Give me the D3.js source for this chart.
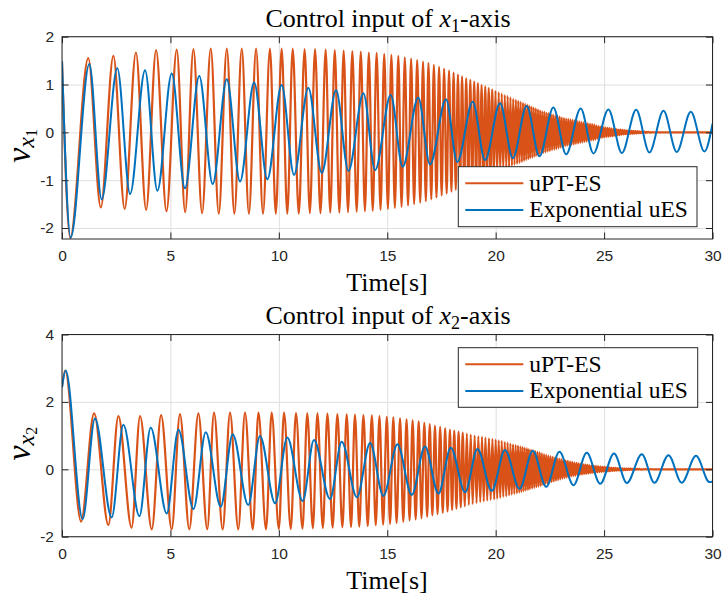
<!DOCTYPE html>
<html><head><meta charset="utf-8">
<script src="https://cdn.jsdelivr.net/npm/d3@7"></script>
<style>body{margin:0;background:#fff}svg{display:block}</style>
</head><body>
<svg id="c" width="725" height="601"></svg>
<script>
// ---------------- DATA ----------------
const timeTicks = [0, 5, 10, 15, 20, 25, 30];
const x1Ticks = [-2, -1, 0, 1, 2];
const x2Ticks = [-2, 0, 2, 4];
const seriesNames = ["uPT-ES", "Exponential uES"];

// x1-axis, uPT-ES: start/end, local maxima, local minima  [time, value]
const x1UptEnds = [[0, 1.48], [30, 0]];
const x1UptPeaks = [[1.21,1.55],[2.37,1.60],[3.41,1.67],[4.34,1.72],[5.29,1.73],[6.06,1.74],[6.86,1.75],[7.60,1.75],[8.29,1.75],[8.95,1.75],[9.59,1.75],[10.13,1.75],[10.64,1.75],[11.19,1.74],[11.67,1.74],[12.16,1.73],[12.58,1.72],[12.99,1.71],[13.39,1.70],[13.78,1.69],[14.15,1.67],[14.51,1.66],[14.86,1.64],[15.19,1.62],[15.51,1.60],[15.81,1.57],[16.10,1.54],[16.38,1.51],[16.65,1.48],[16.90,1.45],[17.15,1.41],[17.39,1.37],[17.62,1.33],[17.85,1.29],[18.06,1.25],[18.26,1.21],[18.45,1.17],[18.64,1.13],[18.83,1.10],[19.01,1.06],[19.18,1.03],[19.35,0.99],[19.52,0.96],[19.68,0.93],[19.84,0.90],[19.99,0.87],[20.14,0.84],[20.28,0.81],[20.42,0.78],[20.55,0.76],[20.68,0.73],[20.81,0.70],[20.93,0.68],[21.04,0.66],[21.15,0.64],[21.26,0.62],[21.36,0.60],[21.46,0.58],[21.55,0.56],[21.65,0.54],[21.75,0.52],[21.85,0.50],[21.95,0.48],[22.05,0.46],[22.15,0.44],[22.25,0.43],[22.35,0.41],[22.45,0.40],[22.55,0.38],[22.65,0.37],[22.75,0.35],[22.85,0.34],[22.95,0.33],[23.05,0.31],[23.15,0.30],[23.25,0.29],[23.35,0.28],[23.45,0.27],[23.55,0.26],[23.65,0.25],[23.75,0.24],[23.85,0.23],[23.95,0.22],[24.05,0.21],[24.15,0.20],[24.25,0.19],[24.35,0.18],[24.45,0.17],[24.55,0.16],[24.65,0.14],[24.75,0.13],[24.85,0.12],[24.95,0.11],[25.05,0.10],[25.15,0.095],[25.25,0.09],[25.35,0.08],[25.45,0.075],[25.55,0.07],[25.65,0.06],[25.75,0.055],[25.85,0.05],[25.95,0.045],[26.05,0.04],[26.15,0.037],[26.25,0.033],[26.35,0.03],[26.45,0.027],[26.55,0.024],[26.65,0.02],[26.75,0.017],[26.85,0.014],[26.95,0.011],[27.05,0.008],[27.15,0.006],[27.25,0.004],[27.35,0.002]];
const x1UptTroughs = [[0.38,-2.21],[1.79,-1.57],[2.89,-1.60],[3.88,-1.62],[4.82,-1.65],[5.68,-1.67],[6.46,-1.69],[7.23,-1.70],[7.95,-1.70],[8.62,-1.70],[9.27,-1.70],[9.86,-1.70],[10.39,-1.70],[10.92,-1.70],[11.43,-1.69],[11.92,-1.69],[12.37,-1.68],[12.79,-1.68],[13.19,-1.67],[13.59,-1.66],[13.97,-1.65],[14.33,-1.64],[14.69,-1.62],[15.03,-1.60],[15.35,-1.58],[15.66,-1.56],[15.96,-1.53],[16.24,-1.50],[16.52,-1.47],[16.78,-1.44],[17.03,-1.40],[17.27,-1.36],[17.51,-1.32],[17.74,-1.28],[17.96,-1.24],[18.16,-1.20],[18.36,-1.16],[18.55,-1.12],[18.74,-1.08],[18.92,-1.05],[19.10,-1.01],[19.27,-0.98],[19.44,-0.95],[19.60,-0.92],[19.76,-0.89],[19.92,-0.86],[20.07,-0.83],[20.21,-0.80],[20.35,-0.77],[20.49,-0.75],[20.62,-0.72],[20.75,-0.70],[20.87,-0.68],[20.99,-0.66],[21.10,-0.64],[21.21,-0.62],[21.31,-0.60],[21.41,-0.58],[21.51,-0.56],[21.60,-0.54],[21.70,-0.53],[21.80,-0.51],[21.90,-0.49],[22.00,-0.47],[22.10,-0.45],[22.20,-0.43],[22.30,-0.42],[22.40,-0.40],[22.50,-0.39],[22.60,-0.37],[22.70,-0.36],[22.80,-0.35],[22.90,-0.33],[23.00,-0.32],[23.10,-0.31],[23.20,-0.29],[23.30,-0.28],[23.40,-0.27],[23.50,-0.26],[23.60,-0.25],[23.70,-0.24],[23.80,-0.23],[23.90,-0.22],[24.00,-0.21],[24.10,-0.20],[24.20,-0.19],[24.30,-0.18],[24.40,-0.17],[24.50,-0.16],[24.60,-0.15],[24.70,-0.13],[24.80,-0.12],[24.90,-0.11],[25.00,-0.10],[25.10,-0.095],[25.20,-0.09],[25.30,-0.085],[25.40,-0.08],[25.50,-0.07],[25.60,-0.065],[25.70,-0.06],[25.80,-0.05],[25.90,-0.045],[26.00,-0.04],[26.10,-0.037],[26.20,-0.033],[26.30,-0.03],[26.40,-0.027],[26.50,-0.024],[26.60,-0.02],[26.70,-0.017],[26.80,-0.014],[26.90,-0.011],[27.00,-0.008],[27.10,-0.006],[27.20,-0.004],[27.30,-0.002],[27.40,-0.001]];

// x1-axis, Exponential uES: extrema [time, value]
const x1Exp = [[0,1.48],[0.40,-2.20],[1.26,1.43],[1.83,-1.40],[2.55,1.34],[3.14,-1.29],[3.83,1.30],[4.40,-1.22],[5.06,1.23],[5.67,-1.17],[6.33,1.18],[6.95,-1.08],[7.60,1.11],[8.21,-1.03],[8.86,1.04],[9.47,-0.98],[10.13,0.99],[10.70,-0.89],[11.36,0.93],[11.98,-0.85],[12.64,0.88],[13.21,-0.81],[13.90,0.82],[14.44,-0.79],[15.16,0.78],[15.71,-0.72],[16.43,0.73],[16.97,-0.67],[17.71,0.69],[18.23,-0.62],[18.94,0.64],[19.51,-0.58],[20.20,0.61],[20.79,-0.54],[21.43,0.55],[22.02,-0.50],[22.66,0.52],[23.25,-0.46],[23.92,0.50],[24.51,-0.44],[25.20,0.48],[25.82,-0.43],[26.48,0.47],[27.09,-0.42],[27.74,0.45],[28.35,-0.41],[29.00,0.43],[29.63,-0.40],[30,0.18]];

// x2-axis, uPT-ES
const x2UptEnds = [[0, 2.45], [30, 0]];
const x2UptPeaks = [[0.15,2.93],[1.48,1.66],[2.60,1.58],[3.60,1.58],[4.57,1.61],[5.44,1.64],[6.29,1.66],[7.01,1.68],[7.75,1.68],[8.44,1.68],[9.06,1.68],[9.67,1.68],[10.24,1.68],[10.79,1.67],[11.31,1.66],[11.78,1.66],[12.24,1.65],[12.70,1.64],[13.13,1.63],[13.51,1.62],[13.90,1.61],[14.29,1.60],[14.64,1.58],[14.98,1.56],[15.28,1.54],[15.59,1.51],[15.89,1.48],[16.17,1.45],[16.45,1.42],[16.71,1.38],[16.96,1.34],[17.20,1.30],[17.44,1.26],[17.67,1.22],[17.89,1.18],[18.09,1.15],[18.29,1.12],[18.48,1.09],[18.67,1.06],[18.85,1.03],[19.03,1.00],[19.20,0.98],[19.37,0.96],[19.53,0.94],[19.69,0.92],[19.85,0.90],[20.00,0.88],[20.14,0.86],[20.28,0.84],[20.42,0.81],[20.55,0.79],[20.68,0.76],[20.80,0.74],[20.92,0.72],[21.03,0.70],[21.14,0.68],[21.24,0.66],[21.34,0.64],[21.44,0.62],[21.53,0.60],[21.63,0.58],[21.73,0.56],[21.83,0.54],[21.93,0.52],[22.03,0.50],[22.13,0.47],[22.23,0.45],[22.33,0.43],[22.43,0.41],[22.53,0.39],[22.63,0.37],[22.73,0.35],[22.83,0.33],[22.93,0.32],[23.03,0.30],[23.13,0.28],[23.23,0.26],[23.33,0.25],[23.43,0.23],[23.53,0.22],[23.63,0.20],[23.73,0.19],[23.83,0.18],[23.93,0.17],[24.03,0.15],[24.13,0.14],[24.23,0.13],[24.33,0.12],[24.43,0.11],[24.53,0.10],[24.63,0.095],[24.73,0.09],[24.83,0.08],[24.93,0.075],[25.03,0.07],[25.13,0.06],[25.23,0.055],[25.33,0.05],[25.43,0.045],[25.53,0.04],[25.63,0.037],[25.73,0.033],[25.83,0.03],[25.93,0.027],[26.03,0.024],[26.13,0.021],[26.23,0.018],[26.33,0.016],[26.43,0.014],[26.53,0.012],[26.63,0.01],[26.73,0.008],[26.83,0.006],[26.93,0.005],[27.03,0.004],[27.13,0.003],[27.23,0.002]];
const x2UptTroughs = [[0.88,-1.55],[2.14,-1.65],[3.21,-1.73],[4.14,-1.78],[5.06,-1.78],[5.87,-1.78],[6.70,-1.78],[7.41,-1.78],[8.13,-1.78],[8.80,-1.78],[9.41,-1.78],[10.00,-1.77],[10.55,-1.77],[11.09,-1.76],[11.57,-1.75],[12.03,-1.74],[12.48,-1.73],[12.93,-1.72],[13.33,-1.71],[13.71,-1.70],[14.10,-1.68],[14.47,-1.66],[14.81,-1.64],[15.13,-1.62],[15.43,-1.59],[15.74,-1.56],[16.03,-1.52],[16.31,-1.49],[16.58,-1.45],[16.84,-1.41],[17.08,-1.37],[17.32,-1.33],[17.56,-1.29],[17.78,-1.25],[17.99,-1.21],[18.19,-1.17],[18.39,-1.13],[18.58,-1.10],[18.76,-1.06],[18.94,-1.03],[19.12,-1.00],[19.29,-0.97],[19.45,-0.95],[19.61,-0.93],[19.77,-0.91],[19.93,-0.89],[20.07,-0.87],[20.21,-0.85],[20.35,-0.82],[20.49,-0.80],[20.62,-0.77],[20.74,-0.75],[20.86,-0.73],[20.98,-0.71],[21.09,-0.69],[21.19,-0.67],[21.29,-0.65],[21.39,-0.63],[21.49,-0.61],[21.58,-0.59],[21.68,-0.57],[21.78,-0.55],[21.88,-0.53],[21.98,-0.51],[22.08,-0.49],[22.18,-0.46],[22.28,-0.44],[22.38,-0.42],[22.48,-0.40],[22.58,-0.38],[22.68,-0.36],[22.78,-0.34],[22.88,-0.32],[22.98,-0.30],[23.08,-0.28],[23.18,-0.26],[23.28,-0.24],[23.38,-0.23],[23.48,-0.21],[23.58,-0.20],[23.68,-0.19],[23.78,-0.17],[23.88,-0.16],[23.98,-0.15],[24.08,-0.14],[24.18,-0.13],[24.28,-0.12],[24.38,-0.11],[24.48,-0.10],[24.58,-0.095],[24.68,-0.09],[24.78,-0.08],[24.88,-0.075],[24.98,-0.07],[25.08,-0.065],[25.18,-0.06],[25.28,-0.055],[25.38,-0.05],[25.48,-0.045],[25.58,-0.04],[25.68,-0.036],[25.78,-0.032],[25.88,-0.029],[25.98,-0.026],[26.08,-0.023],[26.18,-0.02],[26.28,-0.017],[26.38,-0.015],[26.48,-0.013],[26.58,-0.011],[26.68,-0.009],[26.78,-0.007],[26.88,-0.005],[26.98,-0.004],[27.08,-0.003],[27.18,-0.002],[27.28,-0.001]];

// x2-axis, Exponential uES
const x2Exp = [[0,2.43],[0.17,2.93],[0.95,-1.48],[1.52,1.51],[2.29,-1.43],[2.83,1.32],[3.57,-1.39],[4.09,1.24],[4.83,-1.31],[5.37,1.17],[6.06,-1.18],[6.63,1.10],[7.32,-1.11],[7.87,1.04],[8.59,-1.06],[9.13,0.99],[9.83,-1.01],[10.39,0.94],[11.10,-0.94],[11.62,0.87],[12.36,-0.88],[12.90,0.82],[13.60,-0.83],[14.21,0.78],[14.82,-0.79],[15.47,0.74],[16.13,-0.76],[16.74,0.68],[17.36,-0.72],[17.93,0.64],[18.59,-0.68],[19.16,0.60],[19.82,-0.64],[20.43,0.57],[21.10,-0.58],[21.71,0.55],[22.33,-0.52],[22.94,0.52],[23.59,-0.47],[24.20,0.49],[24.82,-0.43],[25.46,0.47],[26.05,-0.41],[26.74,0.45],[27.32,-0.40],[27.97,0.42],[28.58,-0.40],[29.24,0.40],[29.86,-0.38],[30,-0.36]];

// ---------------- DRAWING ----------------
const ORANGE = "#D95319", BLUE = "#0072BD", AX = "#262626", GRID = "#dfdfdf";
const SERIF = "'Liberation Serif','Times New Roman',serif";
const SANS = "'Liberation Sans',Arial,Helvetica,sans-serif";
const svg = d3.select("#c");
const xScale = d3.scaleLinear().domain([0, 30]).range([62, 712.5]);

function merge(ends, peaks, troughs) {
  return [...ends, ...peaks, ...troughs].sort((a, b) => a[0] - b[0]);
}

function panel(p) {
  const y = d3.scaleLinear().domain(p.yDomain).range([p.bottom, p.top]);
  const h = p.bottom - p.top;
  const L = xScale.range()[0], R = xScale.range()[1];
  const g = svg.append("g");

  // grid
  const gx = g.append("g").attr("transform", `translate(0,${p.bottom})`)
    .call(d3.axisBottom(xScale).tickValues(timeTicks).tickSize(-h).tickFormat(""));
  const gy = g.append("g").attr("transform", `translate(${L},0)`)
    .call(d3.axisLeft(y).tickValues(p.yTicks).tickSize(-(R - L)).tickFormat(""));
  [gx, gy].forEach(s => { s.select(".domain").remove(); s.selectAll("line").attr("stroke", GRID).attr("stroke-width", 1); });

  // clip
  const cid = "clip" + p.id;
  svg.append("clipPath").attr("id", cid).append("rect")
    .attr("x", L).attr("y", p.top).attr("width", R - L).attr("height", h);

  const line = d3.line().x(d => xScale(d[0])).y(d => y(d[1])).curve(d3.curveMonotoneX);
  const lg = g.append("g").attr("clip-path", `url(#${cid})`);
  lg.append("path").attr("d", line(p.upt)).attr("fill", "none")
    .attr("stroke", ORANGE).attr("stroke-width", 2.2).attr("stroke-linejoin", "round");
  lg.append("path").attr("d", line(p.exp)).attr("fill", "none")
    .attr("stroke", BLUE).attr("stroke-width", 2).attr("stroke-linejoin", "round");

  // box
  g.append("rect").attr("x", L).attr("y", p.top).attr("width", R - L).attr("height", h)
    .attr("fill", "none").attr("stroke", AX).attr("stroke-width", 1);

  // axes with inward ticks
  const styleAxis = s => {
    s.select(".domain").remove();
    s.selectAll("line").attr("stroke", AX).attr("stroke-width", 1);
    s.selectAll("text").attr("fill", AX).style("font-family", SANS).style("font-size", "15.5px");
  };
  g.append("g").attr("transform", `translate(0,${p.bottom})`)
    .call(d3.axisBottom(xScale).tickValues(timeTicks).tickSize(-6.5).tickPadding(11).tickFormat(d3.format("d")))
    .call(styleAxis);
  g.append("g").attr("transform", `translate(0,${p.top})`)
    .call(d3.axisTop(xScale).tickValues(timeTicks).tickSize(-6.5).tickFormat(""))
    .call(styleAxis);
  g.append("g").attr("transform", `translate(${L},0)`)
    .call(d3.axisLeft(y).tickValues(p.yTicks).tickSize(-6.5).tickPadding(8).tickFormat(d => String(d)))
    .call(styleAxis);
  g.append("g").attr("transform", `translate(${R},0)`)
    .call(d3.axisRight(y).tickValues(p.yTicks).tickSize(-6.5).tickFormat(""))
    .call(styleAxis);

  // title
  const t = g.append("text").attr("x", 388).attr("y", p.titleY).attr("text-anchor", "middle")
    .style("font-family", SERIF).style("font-size", "26px").attr("fill", "#000");
  t.append("tspan").text("Control input of ");
  t.append("tspan").style("font-style", "italic").text("x");
  t.append("tspan").attr("dy", 5).style("font-size", "18px").text(p.sub);
  t.append("tspan").attr("dy", -5).text("-axis");

  // x label
  g.append("text").attr("x", 387).attr("y", p.bottom + 52).attr("text-anchor", "middle")
    .style("font-family", SERIF).style("font-size", "26px").attr("fill", "#000").text("Time[s]");

  // y label
  const yl = g.append("text").attr("transform", `translate(29.5,${(p.top + p.bottom) / 2 + 8}) rotate(-90)`)
    .attr("text-anchor", "middle").style("font-family", SERIF).attr("fill", "#000");
  yl.append("tspan").style("font-style", "italic").style("font-size", "34px").text("v");
  yl.append("tspan").attr("dy", 4.5).style("font-style", "italic").style("font-size", "24px").text("x");
  yl.append("tspan").attr("dy", 3).style("font-size", "16px").text(p.sub);

  // legend
  const lgd = g.append("g");
  lgd.append("rect").attr("x", p.leg.x).attr("y", p.leg.y).attr("width", p.leg.w).attr("height", p.leg.h)
    .attr("fill", "#fff").attr("stroke", AX).attr("stroke-width", 1);
  [ORANGE, BLUE].forEach((c, i) => {
    const cy = p.leg.y + 16.5 + i * 26.7;
    lgd.append("line").attr("x1", p.leg.x + 7).attr("x2", p.leg.x + 65).attr("y1", cy).attr("y2", cy)
      .attr("stroke", c).attr("stroke-width", 2);
    lgd.append("text").attr("x", p.leg.x + 71).attr("y", cy + 7.5)
      .style("font-family", SERIF).style("font-size", "23.5px").attr("fill", "#000").text(seriesNames[i]);
  });
}

panel({ id: 1, top: 36.7, bottom: 239, yDomain: [-2.23, 2], yTicks: x1Ticks, sub: "1", titleY: 27,
  upt: merge(x1UptEnds, x1UptPeaks, x1UptTroughs), exp: x1Exp,
  leg: { x: 458.3, y: 166.7, w: 238.7, h: 60 } });
panel({ id: 2, top: 334.5, bottom: 536.7, yDomain: [-2, 4], yTicks: x2Ticks, sub: "2", titleY: 324,
  upt: merge(x2UptEnds, x2UptPeaks, x2UptTroughs), exp: x2Exp,
  leg: { x: 458.3, y: 347.7, w: 239.4, h: 59.6 } });
</script>
</body></html>
